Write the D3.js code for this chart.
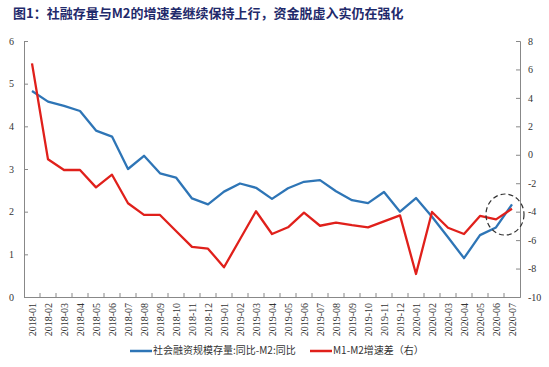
<!DOCTYPE html>
<html lang="zh">
<head>
<meta charset="UTF-8">
<title>社融存量与M2增速差</title>
<script src="https://cdn.jsdelivr.net/npm/d3@7"></script>
<style>
  body { margin: 0; background: #fff; }
  svg { display: block; }
</style>
</head>
<body>
<script>
// months on the x axis
var months = ["2018-01","2018-02","2018-03","2018-04","2018-05","2018-06","2018-07","2018-08","2018-09","2018-10","2018-11","2018-12",
              "2019-01","2019-02","2019-03","2019-04","2019-05","2019-06","2019-07","2019-08","2019-09","2019-10","2019-11","2019-12",
              "2020-01","2020-02","2020-03","2020-04","2020-05","2020-06","2020-07"];

// 社会融资规模存量:同比 - M2:同比 (left axis)
var tsfGap = [4.83, 4.58, 4.48, 4.36, 3.90, 3.76, 3.00, 3.31, 2.90, 2.80, 2.31, 2.17,
              2.47, 2.66, 2.56, 2.30, 2.55, 2.70, 2.74, 2.48, 2.27, 2.20, 2.46, 2.00,
              2.32, 1.88, 1.40, 0.91, 1.45, 1.63, 2.17];

// M1-M2 增速差 (right axis)
var m1m2Gap = [6.43, -0.32, -1.07, -1.07, -2.29, -1.40, -3.41, -4.23, -4.23, -5.36, -6.48, -6.60,
               -7.91, -5.94, -3.97, -5.57, -5.10, -4.07, -4.99, -4.77, -4.95, -5.10, -4.68, -4.26,
               -8.38, -4.02, -5.13, -5.57, -4.30, -4.54, -3.79];

var leftTicks = [0, 1, 2, 3, 4, 5, 6];
var rightTicks = [-10, -8, -6, -4, -2, 0, 2, 4, 6, 8];

var W = 549, H = 367;
var plotL = 24, plotR = 520, plotT = 41, plotB = 297;
var blue = "#2e75b6", red = "#e0201b";

var svg = d3.select("body").append("svg")
    .attr("width", W).attr("height", H);

svg.append("text")
    .attr("x", 13).attr("y", 18)
    .attr("font-family", "Noto Sans CJK SC")
    .attr("font-weight", "bold")
    .attr("font-size", "13px")
    .attr("fill", "#1f2a6b")
    .text("图1：社融存量与M2的增速差继续保持上行，资金脱虚入实仍在强化");

var x = d3.scaleBand().domain(months).range([plotL, plotR]);
var yL = d3.scaleLinear().domain([0, 6]).range([plotB, plotT]);
var yR = d3.scaleLinear().domain([-10, 8]).range([plotB, plotT]);
var cx = function(i) { return x(months[i]) + x.bandwidth() / 2; };

// left axis
var gl = svg.append("g").attr("transform", "translate(" + plotL + ",0)")
    .call(d3.axisLeft(yL).tickValues(leftTicks).tickSize(-4).tickPadding(10).tickFormat(d3.format("d")));
// right axis
var gr = svg.append("g").attr("transform", "translate(" + plotR + ",0)")
    .call(d3.axisRight(yR).tickValues(rightTicks).tickSize(-4).tickPadding(8).tickFormat(function(d) { return d; }));
// bottom axis: ticks on category boundaries
var gb = svg.append("g").attr("transform", "translate(0," + plotB + ")")
    .call(d3.axisBottom(x).tickSize(0).tickPadding(6));
gb.selectAll(".tick text")
    .attr("transform", "rotate(-90)")
    .attr("text-anchor", "end")
    .attr("x", -6).attr("y", 0).attr("dy", "0.35em");
gb.selectAll(".bnd").data(months.slice(1)).enter().append("line")
    .attr("class", "bnd")
    .attr("x1", function(d) { return x(d); }).attr("x2", function(d) { return x(d); })
    .attr("y1", 0).attr("y2", -4)
    .attr("stroke", "#888");

[gl, gr, gb].forEach(function(g) {
    g.select(".domain").attr("stroke", "#888");
    g.selectAll(".tick line").attr("stroke", "#888");
    g.selectAll("text")
        .attr("font-family", "Liberation Serif")
        .attr("font-size", "10px")
        .attr("fill", "#333");
});

var lineL = d3.line().x(function(d, i) { return cx(i); }).y(function(d) { return yL(d); });
var lineR = d3.line().x(function(d, i) { return cx(i); }).y(function(d) { return yR(d); });

svg.append("path").datum(tsfGap)
    .attr("d", lineL).attr("fill", "none")
    .attr("stroke", blue).attr("stroke-width", 2.3).attr("stroke-linejoin", "round");
svg.append("path").datum(m1m2Gap)
    .attr("d", lineR).attr("fill", "none")
    .attr("stroke", red).attr("stroke-width", 2.3).attr("stroke-linejoin", "round");

// dashed circle marking the latest convergence
svg.append("ellipse")
    .attr("cx", (cx(29) + cx(30)) / 2 + 1)
    .attr("cy", yR(-4.2))
    .attr("rx", 19).attr("ry", 20.5)
    .attr("fill", "none")
    .attr("stroke", "#333")
    .attr("stroke-width", 1.2)
    .attr("stroke-dasharray", "5,3");

// legend
var legend = [
    { label: "社会融资规模存量:同比-M2:同比", color: blue, x: 130 },
    { label: "M1-M2增速差（右）", color: red, x: 310 }
];
var lg = svg.selectAll(".lg").data(legend).enter().append("g")
    .attr("class", "lg")
    .attr("transform", function(d) { return "translate(" + d.x + ",351)"; });
lg.append("line")
    .attr("x1", 0).attr("x2", 22).attr("y1", 0).attr("y2", 0)
    .attr("stroke", function(d) { return d.color; }).attr("stroke-width", 2.5);
lg.append("text")
    .attr("x", 23).attr("y", 0)
    .attr("dominant-baseline", "middle")
    .attr("font-family", "Noto Sans CJK SC")
    .attr("font-size", "10px")
    .attr("fill", "#333")
    .text(function(d) { return d.label; });
</script>
</body>
</html>
